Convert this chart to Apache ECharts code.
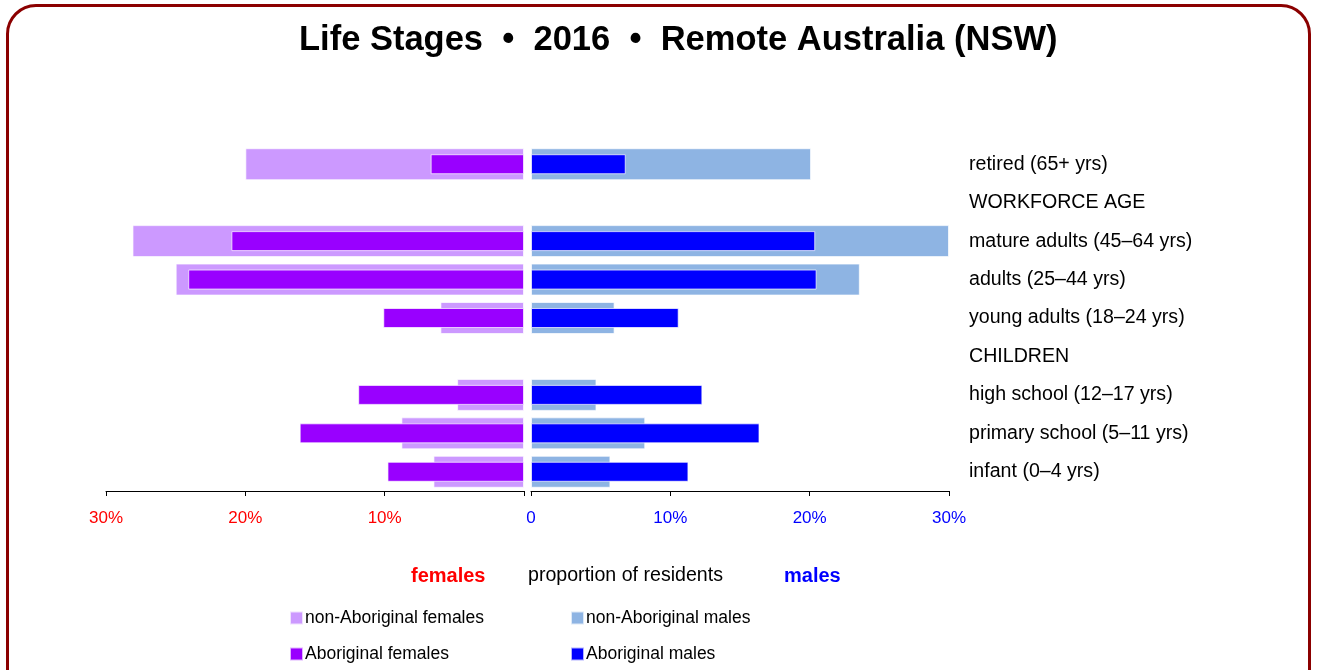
<!DOCTYPE html>
<html>
<head>
<meta charset="utf-8">
<script src="https://cdn.jsdelivr.net/npm/echarts@6/dist/echarts.min.js"></script>
<style>
  html, body { margin: 0; padding: 0; background: #fff; }
  #frame {
    position: absolute; left: 6px; top: 4px; width: 1305px; height: 700px;
    border: 3px solid #8b0000; border-radius: 30px; box-sizing: border-box;
  }
  #main { position: absolute; left: 0; top: 0; width: 1320px; height: 670px; }
</style>
</head>
<body>
<div id="frame"></div>
<div id="main"></div>
<script>
// categories from bottom to top
let stages = [
  "infant (0–4 yrs)",
  "primary school (5–11 yrs)",
  "high school (12–17 yrs)",
  "CHILDREN",
  "young adults (18–24 yrs)",
  "adults (25–44 yrs)",
  "mature adults (45–64 yrs)",
  "WORKFORCE AGE",
  "retired (65+ yrs)"
];
// percentages, "-" = heading row with no bar
let nonAbFemales = [6.5, 8.8, 4.8, "-", 6.0, 25.0, 28.1, "-", 20.0];
let abFemales = [9.8, 16.1, 11.9, "-", 10.1, 24.1, 21.0, "-", 6.7];
let nonAbMales = [5.7, 8.2, 4.7, "-", 6.0, 23.6, 30.0, "-", 20.1];
let abMales = [11.3, 16.4, 12.3, "-", 10.6, 20.5, 20.4, "-", 6.8];
let ticks = [0, 10, 20, 30];

let myChart = echarts.init(document.getElementById("main"));
let font = "Liberation Sans, Arial, sans-serif";

function xAxisFor(idx, color, showZero) {
  return {
    type: "value",
    gridIndex: idx,
    min: ticks[0],
    max: ticks[ticks.length - 1],
    interval: 10,
    inverse: idx === 0,
    splitLine: { show: false },
    axisLine: { show: true, lineStyle: { color: "#000", width: 1 } },
    axisTick: { show: true, length: 5, lineStyle: { color: "#000" } },
    axisLabel: {
      color: color,
      fontFamily: font,
      fontSize: 17,
      margin: 19,
      formatter: function(v) {
        if (v === 0) return showZero ? "0" : "";
        return v + "%";
      }
    }
  };
}

// one hidden category axis per series so wide and narrow bars share a centre
function yAxisFor(grid, showLabels) {
  return {
    type: "category",
    gridIndex: grid,
    data: stages,
    position: "right",
    axisLine: { show: false },
    axisTick: { show: false },
    axisLabel: { show: showLabels, color: "#000", fontSize: 19.6, fontFamily: font, margin: 20 }
  };
}

let barBorder = { borderColor: "rgba(255,255,255,0.7)", borderWidth: 1 };

let option = {
  animation: false,
  textStyle: { fontFamily: font },
  title: {
    text: "Life Stages  •  2016  •  Remote Australia (NSW)",
    left: 294,
    top: 18,
    textStyle: { fontSize: 34.5, fontWeight: "bold", color: "#000", fontFamily: font }
  },
  grid: [
    { left: 106, width: 418, top: 145, bottom: 179 },
    { left: 531, width: 418, top: 145, bottom: 179 }
  ],
  xAxis: [xAxisFor(0, "#ff0000", false), xAxisFor(1, "#0000ff", true)],
  yAxis: [yAxisFor(0, false), yAxisFor(0, false), yAxisFor(1, true), yAxisFor(1, false)],
  legend: [
    {
      data: ["non-Aboriginal females", "Aboriginal females"],
      orient: "vertical",
      icon: "rect",
      left: 284,
      top: 604,
      itemGap: 18,
      itemWidth: 13,
      itemHeight: 13,
      textStyle: { fontSize: 17.5, color: "#000", padding: [0, 0, 0, -3] }
    },
    {
      data: ["non-Aboriginal males", "Aboriginal males"],
      orient: "vertical",
      icon: "rect",
      left: 565,
      top: 604,
      itemGap: 18,
      itemWidth: 13,
      itemHeight: 13,
      textStyle: { fontSize: 17.5, color: "#000", padding: [0, 0, 0, -3] }
    }
  ],
  graphic: [
    { type: "text", left: 411, top: 566, style: { text: "females", fill: "#ff0000", font: "bold 20px " + font } },
    { type: "text", left: 528, top: 566, style: { text: "proportion of residents", fill: "#000", font: "19.6px " + font } },
    { type: "text", left: 784, top: 566, style: { text: "males", fill: "#0000ff", font: "bold 20px " + font } }
  ],
  series: [
    {
      name: "non-Aboriginal females",
      type: "bar",
      xAxisIndex: 0,
      yAxisIndex: 0,
      data: nonAbFemales,
      barWidth: 32,
      itemStyle: Object.assign({ color: "#cc99ff" }, barBorder)
    },
    {
      name: "Aboriginal females",
      type: "bar",
      xAxisIndex: 0,
      yAxisIndex: 1,
      data: abFemales,
      barWidth: 20,
      z: 3,
      itemStyle: Object.assign({ color: "#9900ff" }, barBorder)
    },
    {
      name: "non-Aboriginal males",
      type: "bar",
      xAxisIndex: 1,
      yAxisIndex: 2,
      data: nonAbMales,
      barWidth: 32,
      itemStyle: Object.assign({ color: "#8eb4e3" }, barBorder)
    },
    {
      name: "Aboriginal males",
      type: "bar",
      xAxisIndex: 1,
      yAxisIndex: 3,
      data: abMales,
      barWidth: 20,
      z: 3,
      itemStyle: Object.assign({ color: "#0000ff" }, barBorder)
    }
  ]
};
myChart.setOption(option);
</script>
</body>
</html>
